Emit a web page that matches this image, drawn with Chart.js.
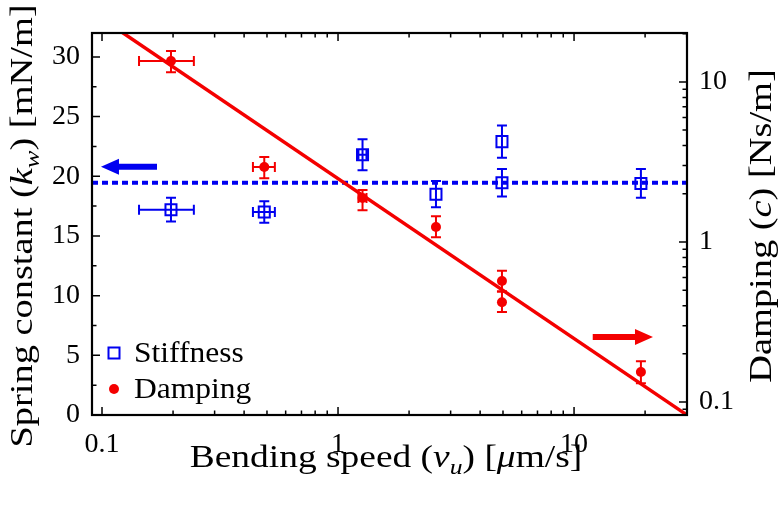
<!DOCTYPE html>
<html><head><meta charset="utf-8">
<script src="https://cdn.jsdelivr.net/npm/chart.js@4.4.0/dist/chart.umd.min.js"></script>
<style>html,body{margin:0;padding:0;background:#fff}#wrap{width:783px;height:506px}</style>
</head><body><div id="wrap"><canvas id="c" width="783" height="506"></canvas></div>
<script>
// ---- data ----
const speeds      = [0.196, 0.487, 1.27, 2.6, 4.95, 4.95, 19.2];
const speedLow    = [0.1435, 0.436, 1.22, 2.6, 4.95, 4.95, 19.2];
const speedHigh   = [0.245, 0.54, 1.32, 2.6, 4.95, 4.95, 19.2];
const stiffness   = [17.2, 17.0, 21.8, 18.5, 22.9, 19.45, 19.4];
const stiffnessErr= [1.0, 0.9, 1.3, 1.1, 1.35, 1.15, 1.2];
const damping     = [13.5, 2.94, 1.88, 1.24, 0.57, 0.42, 0.154];
const dampingLow  = [11.5, 2.5, 1.58, 1.07, 0.49, 0.365, 0.131];
const dampingHigh = [15.6, 3.4, 2.11, 1.45, 0.66, 0.49, 0.18];
const meanSpeeds  = [0.0907, 30.1];
const meanStiff   = [19.45, 19.45];
const fitSpeeds   = [0.1, 30.1];
const fitDamping  = [24.8, 0.083];
const xTickValues = [0.1, 1, 10];
const xTickLabels = ['0.1', '1', '10'];
const xMinorTicks = [0.2,0.3,0.4,0.5,0.6,0.7,0.8,0.9,2,3,4,5,6,7,8,9,20,30];
const yTickValues = [0, 5, 10, 15, 20, 25, 30];
const yTickLabels = ['0', '5', '10', '15', '20', '25', '30'];
const yMinorTicks = [2.5, 7.5, 12.5, 17.5, 22.5, 27.5];
const y2TickValues = [0.1, 1, 10];
const y2TickLabels = ['0.1', '1', '10'];
const y2MinorTicks = [0.09,0.2,0.3,0.4,0.5,0.6,0.7,0.8,0.9,2,3,4,5,6,7,8,9,20];
const seriesLabels = ['Stiffness', 'Damping'];
// title pieces: [text, style] style 0 normal, 1 italic, 2 italic subscript
const xTitle  = [['Bending speed (',0],['v',1],['u',2],[') [',0],['μ',1],['m/s]',0]];
const yTitle  = [['Spring constant (',0],['k',1],['w',2],[') [mN/m]',0]];
const y2Title = [['Damping (',0],['c',1],[') [Ns/m]',0]];

const BLUE = '#0000f0', RED = '#f40000';
const FONT = '"Liberation Serif", "Times New Roman", serif';

function richFont(style, size){
  if (style === 2) return 'italic ' + Math.round(size*0.7) + 'px ' + FONT;
  if (style === 1) return 'italic ' + size + 'px ' + FONT;
  return size + 'px ' + FONT;
}
function drawRich(ctx, parts, cx, cy, rot, size, stretch){
  ctx.save();
  ctx.translate(cx, cy); ctx.rotate(rot); ctx.scale(stretch, 1);
  ctx.textBaseline = 'alphabetic'; ctx.textAlign = 'left'; ctx.fillStyle = '#000';
  let w = 0;
  parts.forEach(p => { ctx.font = richFont(p[1], size); w += ctx.measureText(p[0]).width; });
  let x = -w/2;
  parts.forEach(p => {
    ctx.font = richFont(p[1], size);
    ctx.fillText(p[0], x, p[1] === 2 ? size*0.22 : 0);
    x += ctx.measureText(p[0]).width;
  });
  ctx.restore();
}

const deco = {
  id: 'deco',
  beforeDatasetDraw(chart, args){
    const ctx = chart.ctx, a = chart.chartArea;
    const sx = chart.scales.x;
    const lbl = chart.data.datasets[args.index].label;
    if (lbl !== 'Stiffness' && lbl !== 'Damping') return;
    const isS = lbl === 'Stiffness';
    const sy = isS ? chart.scales.y : chart.scales.y2;
    ctx.save();
    ctx.beginPath(); ctx.rect(a.left, a.top, a.right-a.left, a.bottom-a.top); ctx.clip();
    ctx.strokeStyle = isS ? BLUE : RED; ctx.lineWidth = 2;
    const cap = 5;
    speeds.forEach((s, i) => {
      const px = sx.getPixelForValue(s);
      const v = isS ? stiffness[i] : damping[i];
      const lo = isS ? v - stiffnessErr[i] : dampingLow[i];
      const hi = isS ? v + stiffnessErr[i] : dampingHigh[i];
      const y1 = sy.getPixelForValue(lo), y2 = sy.getPixelForValue(hi);
      ctx.beginPath();
      ctx.moveTo(px, y1); ctx.lineTo(px, y2);
      ctx.moveTo(px-cap, y1); ctx.lineTo(px+cap, y1);
      ctx.moveTo(px-cap, y2); ctx.lineTo(px+cap, y2);
      const x1 = sx.getPixelForValue(speedLow[i]), x2 = sx.getPixelForValue(speedHigh[i]);
      if (x2 - x1 > 2) {
        const py = sy.getPixelForValue(v);
        ctx.moveTo(x1, py); ctx.lineTo(x2, py);
        ctx.moveTo(x1, py-cap); ctx.lineTo(x1, py+cap);
        ctx.moveTo(x2, py-cap); ctx.lineTo(x2, py+cap);
      }
      ctx.stroke();
    });
    ctx.restore();
  },
  afterDraw(chart){
    const ctx = chart.ctx, a = chart.chartArea;
    const sx = chart.scales.x, sy = chart.scales.y, sy2 = chart.scales.y2;
    ctx.save();
    // ticks
    ctx.strokeStyle = '#000'; ctx.lineWidth = 1.5;
    ctx.beginPath();
    const MAJ = 8, MIN = 4.5;
    xTickValues.forEach(v => { const p = sx.getPixelForValue(v);
      ctx.moveTo(p, a.bottom); ctx.lineTo(p, a.bottom-MAJ); ctx.moveTo(p, a.top); ctx.lineTo(p, a.top+MAJ); });
    xMinorTicks.forEach(v => { const p = sx.getPixelForValue(v);
      ctx.moveTo(p, a.bottom); ctx.lineTo(p, a.bottom-MIN); ctx.moveTo(p, a.top); ctx.lineTo(p, a.top+MIN); });
    yTickValues.forEach(v => { const p = sy.getPixelForValue(v); ctx.moveTo(a.left, p); ctx.lineTo(a.left+MAJ, p); });
    yMinorTicks.forEach(v => { const p = sy.getPixelForValue(v); ctx.moveTo(a.left, p); ctx.lineTo(a.left+MIN, p); });
    y2TickValues.forEach(v => { const p = sy2.getPixelForValue(v); ctx.moveTo(a.right, p); ctx.lineTo(a.right-MAJ, p); });
    y2MinorTicks.forEach(v => { const p = sy2.getPixelForValue(v); ctx.moveTo(a.right, p); ctx.lineTo(a.right-MIN, p); });
    ctx.stroke();
    // frame
    ctx.lineWidth = 2.2;
    ctx.strokeRect(a.left, a.top, a.right-a.left, a.bottom-a.top);
    // arrows
    function arrow(xTail, xTip, yv, scale, color){
      const x0 = sx.getPixelForValue(xTail), x1 = sx.getPixelForValue(xTip), y = scale.getPixelForValue(yv);
      const dir = Math.sign(x1 - x0), hl = 18, hh = 8, st = 3;
      ctx.fillStyle = color;
      ctx.beginPath();
      ctx.moveTo(x0, y-st); ctx.lineTo(x1-dir*hl, y-st); ctx.lineTo(x1-dir*hl, y-hh);
      ctx.lineTo(x1, y); ctx.lineTo(x1-dir*hl, y+hh); ctx.lineTo(x1-dir*hl, y+st); ctx.lineTo(x0, y+st);
      ctx.closePath(); ctx.fill();
    }
    arrow(0.171, 0.099, 20.8, sy, BLUE);
    arrow(12.0, 21.6, 6.54, sy, RED);
    // legend
    const lx = a.left + 22, ly1 = a.bottom - 62, ly2 = a.bottom - 26;
    ctx.strokeStyle = BLUE; ctx.lineWidth = 2;
    ctx.strokeRect(lx-5.5, ly1-5.5, 11, 11);
    ctx.fillStyle = RED; ctx.beginPath(); ctx.arc(lx, ly2, 5, 0, Math.PI*2); ctx.fill();
    ctx.fillStyle = '#000'; ctx.font = '30px ' + FONT; ctx.textBaseline = 'middle'; ctx.textAlign = 'left';
    [ly1, ly2].forEach((yy, k) => {
      ctx.save(); ctx.translate(lx + 20, yy + 1); ctx.scale(1.05, 1);
      ctx.fillText(seriesLabels[k], 0, 0); ctx.restore();
    });
    ctx.restore();
    // titles
    drawRich(ctx, xTitle, 386, 467, 0, 32, 1.17);
    drawRich(ctx, yTitle, 32, 226, -Math.PI/2, 32, 1.2);
    drawRich(ctx, y2Title, 771, 226, -Math.PI/2, 32, 1.2);
  }
};

const tickFont = { family: FONT, size: 28 };
new Chart(document.getElementById('c'), {
  type: 'scatter',
  data: { datasets: [
    { label: 'Damping', yAxisID: 'y2', order: 0,
      data: speeds.map((x, i) => ({ x, y: damping[i] })),
      pointStyle: 'circle', pointRadius: 5, pointBackgroundColor: RED, pointBorderWidth: 0, pointHoverRadius: 5 },
    { label: 'Stiffness', yAxisID: 'y', order: 1,
      data: speeds.map((x, i) => ({ x, y: stiffness[i] })),
      pointStyle: 'rect', pointRadius: 7.8, pointBorderColor: BLUE, pointBackgroundColor: 'rgba(0,0,0,0)', pointBorderWidth: 2 },
    { label: 'Fit', yAxisID: 'y2', order: 2, showLine: true,
      data: fitSpeeds.map((x, i) => ({ x, y: fitDamping[i] })),
      borderColor: RED, borderWidth: 3.5, pointRadius: 0 },
    { label: 'Mean', yAxisID: 'y', order: 3, showLine: true,
      data: meanSpeeds.map((x, i) => ({ x, y: meanStiff[i] })),
      borderColor: BLUE, borderWidth: 4, borderDash: [6, 4], pointRadius: 0 }
  ]},
  options: {
    responsive: false, animation: false, devicePixelRatio: 1,
    layout: { padding: { top: 33, left: 0, right: 0, bottom: 0 } },
    plugins: { legend: { display: false }, tooltip: { enabled: false } },
    scales: {
      x: { type: 'logarithmic', position: 'bottom', min: 0.0907, max: 30.1,
        afterBuildTicks: s => { s.ticks = xTickValues.map(v => ({ value: v })); },
        afterFit: s => { s.height = 91; },
        ticks: { callback: (v, i) => xTickLabels[i], font: tickFont, color: '#000', padding: 13, maxRotation: 0, autoSkip: false },
        grid: { display: false, drawTicks: false }, border: { display: false } },
      y: { type: 'linear', position: 'left', min: 0, max: 32,
        afterBuildTicks: s => { s.ticks = yTickValues.map(v => ({ value: v })); },
        afterFit: s => { s.width = 92; },
        ticks: { callback: (v, i) => yTickLabels[i], font: tickFont, color: '#000', padding: 12, autoSkip: false },
        grid: { display: false, drawTicks: false }, border: { display: false } },
      y2: { type: 'logarithmic', position: 'right', min: 0.083, max: 20.2,
        afterBuildTicks: s => { s.ticks = y2TickValues.map(v => ({ value: v })); },
        afterFit: s => { s.width = 96; },
        ticks: { callback: (v, i) => y2TickLabels[i], font: tickFont, color: '#000', padding: 12, autoSkip: false },
        grid: { display: false, drawTicks: false }, border: { display: false } }
    }
  },
  plugins: [deco]
});
</script></body></html>
